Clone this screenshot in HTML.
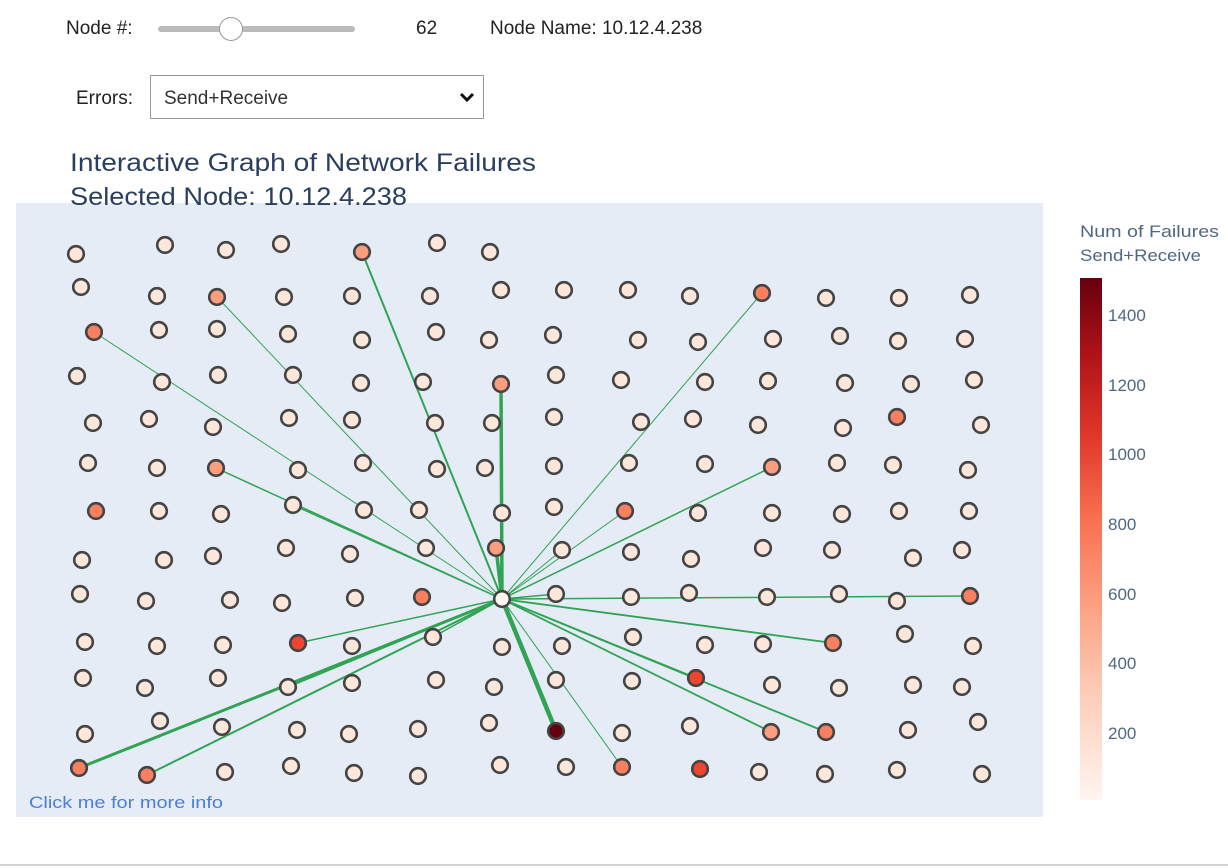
<!DOCTYPE html>
<html><head><meta charset="utf-8"><style>
body{margin:0;width:1228px;height:868px;background:#fff;position:relative;overflow:hidden;font-family:"Liberation Sans",sans-serif;}
.t{position:absolute;font-size:19px;color:#222;}
</style></head><body>
<div class="t" style="left:66px;top:18px">Node #:</div>
<div style="position:absolute;left:158px;top:26px;width:197px;height:6px;background:#bbb;border-radius:3px"></div>
<div style="position:absolute;left:219px;top:17px;width:24px;height:24px;border-radius:50%;background:#fff;border:1px solid #999;box-sizing:border-box"></div>
<div class="t" style="left:416px;top:18px">62</div>
<div class="t" style="left:490px;top:18px">Node Name: 10.12.4.238</div>
<div class="t" style="left:76px;top:88px">Errors:</div>
<div style="position:absolute;left:150px;top:75px;width:334px;height:44px;border:1px solid #999;box-sizing:border-box;background:#fff"></div>
<div class="t" style="left:164px;top:88px;color:#333">Send+Receive</div>
<svg style="position:absolute;left:459px;top:92px" width="16" height="12"><path d="M2 2 L8 8 L14 2" fill="none" stroke="#111" stroke-width="3"/></svg>
<svg id="s" width="1228" height="868" style="position:absolute;left:0;top:0">
<defs><linearGradient id="g" x1="0" y1="0" x2="0" y2="1">
<stop offset="0" stop-color="#67000d"/><stop offset="0.15" stop-color="#b01319"/><stop offset="0.3" stop-color="#e0362a"/><stop offset="0.45" stop-color="#f86c4d"/><stop offset="0.62" stop-color="#fc9e80"/><stop offset="0.8" stop-color="#fdcdb9"/><stop offset="1" stop-color="#fff5f0"/></linearGradient></defs>
<rect x="16" y="203" width="1027" height="614" fill="#e5ecf6"/>
<rect x="1080" y="278" width="22" height="522" fill="url(#g)"/>
<g id="e" stroke="#31a354" fill="none"></g>
<g id="n" stroke="#444" stroke-width="2.6"></g>
<text x="70" y="171" font-family="Liberation Sans,sans-serif" font-size="25" fill="#2a3f5f" textLength="466" lengthAdjust="spacingAndGlyphs">Interactive Graph of Network Failures</text>
<text x="70" y="205" font-family="Liberation Sans,sans-serif" font-size="25" fill="#2a3f5f" textLength="337" lengthAdjust="spacingAndGlyphs">Selected Node: 10.12.4.238</text>
<text x="29" y="808" font-family="Liberation Sans,sans-serif" font-size="17" fill="#4a7fd6" textLength="194" lengthAdjust="spacingAndGlyphs">Click me for more info</text>
<g font-family="Liberation Sans,sans-serif" font-size="17" fill="#506784">
<text x="1080" y="237" textLength="139" lengthAdjust="spacingAndGlyphs">Num of Failures</text><text x="1080" y="261" textLength="121" lengthAdjust="spacingAndGlyphs">Send+Receive</text>
<text x="1108" y="321">1400</text><text x="1108" y="391">1200</text><text x="1108" y="460">1000</text><text x="1108" y="530">800</text><text x="1108" y="600">600</text><text x="1108" y="669">400</text><text x="1108" y="739">200</text>
</g>
<line x1="0" y1="865" x2="1228" y2="865" stroke="#aaa"/>
</svg>
<script>
var L="#fde6da",S="#fb9d7f",R="#ee4530",D="#67000d",O="#f6805f";
var N=[[76,254],[165,245],[226,250],[281,244],[362,252,S],[437,243],[490,252],
[81,287],[157,296],[217,297,S],[284,297],[352,296],[430,296],[501,290],[564,290],[628,290],[690,296],[762,293,O],[826,298],[899,298],[970,295],
[94,332,O],[159,330],[217,329],[288,334],[362,340],[436,332],[489,340],[553,335],[638,340],[698,342],[773,339],[840,336],[898,341],[965,339],
[77,376],[162,382],[218,375],[293,375],[361,383],[423,382],[501,384,S],[556,375],[621,380],[705,382],[768,381],[845,383],[911,384],[974,380],
[93,423],[149,419],[213,427],[289,418],[352,420],[435,423],[492,423],[554,417],[641,422],[693,419],[758,425],[843,428],[897,417,O],[981,425],
[88,463],[157,468],[216,468,S],[298,470],[363,463],[437,469],[485,468],[554,466],[629,463],[705,464],[772,467,S],[837,463],[893,465],[968,470],
[96,511,O],[159,511],[221,514],[293,505],[364,510],[419,510],[502,513],[554,507],[625,511,O],[698,513],[772,513],[842,514],[899,511],[969,511],
[82,560],[164,560],[213,556],[286,548],[350,554],[426,548],[496,548,S],[562,550],[631,552],[691,559],[763,548],[832,550],[913,558],[962,550],
[80,594],[146,601],[230,600],[282,603],[355,598],[422,597,O],[556,594],[631,597],[689,593],[767,597],[839,594],[897,601],[970,596,O],
[85,642],[157,646],[223,645],[298,643,R],[352,646],[433,637],[502,647],[562,646],[633,637],[705,645],[763,644],[833,643,O],[905,634],[973,646],
[83,678],[145,688],[218,678],[288,687],[352,683],[436,680],[494,687],[556,680],[632,681],[696,678,R],[772,685],[839,688],[913,685],[962,687],
[85,734],[160,721],[222,727],[297,730],[349,734],[418,729],[489,723],[556,731,D],[622,733],[690,726],[771,732,S],[826,732,O],[908,730],[978,722],
[79,768,O],[147,775,O],[225,772],[291,766],[354,773],[418,776],[500,765],[566,767],[622,767,O],[700,769,R],[759,772],[825,774],[897,770],[982,774]];
var E=[[362,252,2],[217,297,1],[94,332,1],[501,384,3.5],[762,293,1],[216,468,1.5],[293,505,1.5],[496,548,3.5],[772,467,1.5],[625,511,1],[562,550,1],[556,594,1.5],[970,596,1.5],[833,643,1.8],[696,678,1.8],[771,732,1.8],[826,732,1.8],[622,767,1],[556,731,4.5],[79,768,3],[147,775,2],[298,643,1.5],[433,637,1.5],[288,687,1.5]];
var cx=502,cy=599,ns="http://www.w3.org/2000/svg",ge=document.getElementById("e"),gn=document.getElementById("n");
E.forEach(function(a){var l=document.createElementNS(ns,"line");l.setAttribute("x1",cx);l.setAttribute("y1",cy);l.setAttribute("x2",a[0]);l.setAttribute("y2",a[1]);l.setAttribute("stroke-width",a[2]);ge.appendChild(l);});
N.concat([[cx,cy,"#fff5f0"]]).forEach(function(a){var c=document.createElementNS(ns,"circle");c.setAttribute("cx",a[0]);c.setAttribute("cy",a[1]);c.setAttribute("r",7.8);c.setAttribute("fill",a[2]||L);gn.appendChild(c);});
</script>
</body></html>
